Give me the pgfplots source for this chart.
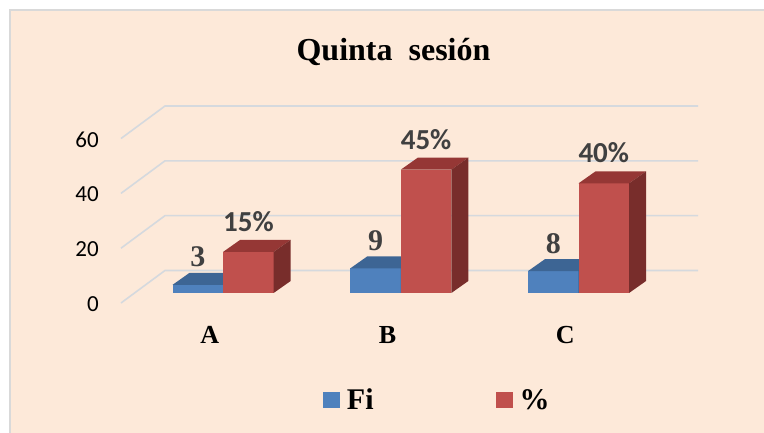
\documentclass[border=0pt]{standalone}
\usepackage{pgfplots}
\pgfplotsset{compat=1.18}
\usepackage{fontspec}
\setmainfont{Liberation Serif}
\newfontfamily\carlito{Carlito}
\definecolor{bg}{HTML}{FDE9D9}
\definecolor{bordercol}{HTML}{D9D9D9}
\definecolor{gridcol}{HTML}{D5D9DE}
\definecolor{blueF}{HTML}{4F81BD}
\definecolor{blueT}{HTML}{3D6594}
\definecolor{blueS}{HTML}{30507A}
\definecolor{redF}{HTML}{C0504D}
\definecolor{redT}{HTML}{953735}
\definecolor{redS}{HTML}{782D2B}
\definecolor{labgray}{HTML}{404040}
% #1 category, #2 0=left/1=right, #3 value, #4 front, #5 top, #6 side
\newcommand{\cubebar}[6]{%
  \pgfmathsetmacro{\xa}{#1-0.2842+#2*0.2842+0.0748}%
  \pgfmathsetmacro{\xb}{\xa+0.2842}%
  \pgfmathsetmacro{\xc}{\xa+0.0957}%
  \pgfmathsetmacro{\xd}{\xb+0.0957}%
  \pgfmathsetmacro{\yb}{3.65}%
  \pgfmathsetmacro{\yt}{3.65+#3}%
  \pgfmathsetmacro{\ybb}{\yb+4.38}%
  \pgfmathsetmacro{\ytt}{\yt+4.38}%
  \addplot[fill=#4, draw=none, forget plot] coordinates {(\xa,\yb) (\xb,\yb) (\xb,\yt) (\xa,\yt)} -- cycle;
  \addplot[fill=#5, draw=none, forget plot] coordinates {(\xa,\yt) (\xb,\yt) (\xd,\ytt) (\xc,\ytt)} -- cycle;
  \addplot[fill=#6, draw=none, forget plot] coordinates {(\xb,\yb) (\xd,\ybb) (\xd,\ytt) (\xb,\yt)} -- cycle;
}
\begin{document}
\begin{tikzpicture}
\useasboundingbox (0pt,0pt) rectangle (764pt,-433pt);
\fill[white] (0pt,0pt) rectangle (764pt,-433pt);
\fill[bg] (10pt,-10pt) rectangle (764pt,-433pt);
\draw[bordercol, line width=2pt] (10pt,-433pt) -- (10pt,-10pt) -- (764pt,-10pt);
\node[anchor=base, font=\bfseries\fontsize{32}{38}\selectfont] at (393.5pt,-61pt) {Quinta\ \ sesión};
\begin{axis}[
  at={(121pt,-303pt)}, anchor=south west,
  scale only axis, width=577pt, height=197pt,
  xmin=-0.5, xmax=2.747, ymin=0, ymax=71.86,
  axis line style={draw=none}, tick style={draw=none}, major tick length=0pt,
  xtick={0,1,2}, xticklabels={A,B,C},
  ytick={0,20,40,60}, yticklabels={0,20,40,60},
  xticklabel style={font=\bfseries\fontsize{26}{30}\selectfont, anchor=base, yshift=-40pt, inner sep=0pt},
  yticklabel style={font=\carlito\fontsize{23}{27}\selectfont, anchor=east, inner sep=0pt, xshift=-22pt, yshift=-1pt},
  clip=false,
  legend columns=2,
  legend image code/.code={\fill[#1] (0pt,-8pt) rectangle (17pt,8pt);},
  legend style={draw=none, fill=none, inner sep=0pt, outer sep=0pt,
    at={(0.350,-0.492)}, anchor=west,
    font=\bfseries\fontsize{30}{36}\selectfont,
    nodes={inner sep=0pt},
    /tikz/every odd column/.append style={column sep=7pt},
    /tikz/every even column/.append style={column sep=122pt}},
]
% gridlines (back wall + side)
\addplot[gridcol, line width=1.6pt, forget plot] coordinates {(-0.5,0) (-0.2524,11.86) (2.747,11.86)};
\addplot[gridcol, line width=1.6pt, forget plot] coordinates {(-0.5,20) (-0.2524,31.86) (2.747,31.86)};
\addplot[gridcol, line width=1.6pt, forget plot] coordinates {(-0.5,40) (-0.2524,51.86) (2.747,51.86)};
\addplot[gridcol, line width=1.6pt, forget plot] coordinates {(-0.5,60) (-0.2524,71.86) (2.747,71.86)};
% bars: Fi = 3, 9, 8 ; % = 15, 45, 40
\cubebar{0}{0}{3}{blueF}{blueT}{blueS}
\cubebar{0}{1}{15}{redF}{redT}{redS}
\cubebar{1}{0}{9}{blueF}{blueT}{blueS}
\cubebar{1}{1}{45}{redF}{redT}{redS}
\cubebar{2}{0}{8}{blueF}{blueT}{blueS}
\cubebar{2}{1}{40}{redF}{redT}{redS}
% data labels
\node[anchor=base, text=labgray, font=\bfseries\fontsize{30}{36}\selectfont] at (axis cs:-0.0673,13.23) {3};
\node[anchor=base, text=labgray, font=\bfseries\fontsize{30}{36}\selectfont] at (axis cs:0.9327,19.23) {9};
\node[anchor=base, text=labgray, font=\bfseries\fontsize{30}{36}\selectfont] at (axis cs:1.9327,18.23) {8};
\node[anchor=base, text=labgray, font=\carlito\bfseries\fontsize{29}{34}\selectfont] at (axis cs:0.2169,26.13) {15\%};
\node[anchor=base, text=labgray, font=\carlito\bfseries\fontsize{29}{34}\selectfont] at (axis cs:1.2169,56.13) {45\%};
\node[anchor=base, text=labgray, font=\carlito\bfseries\fontsize{29}{34}\selectfont] at (axis cs:2.2169,51.13) {40\%};
% legend
\addlegendimage{fill=blueF, draw=none}
\addlegendentry{Fi}
\addlegendimage{fill=redF, draw=none}
\addlegendentry{\%}
\end{axis}
\end{tikzpicture}
\end{document}
